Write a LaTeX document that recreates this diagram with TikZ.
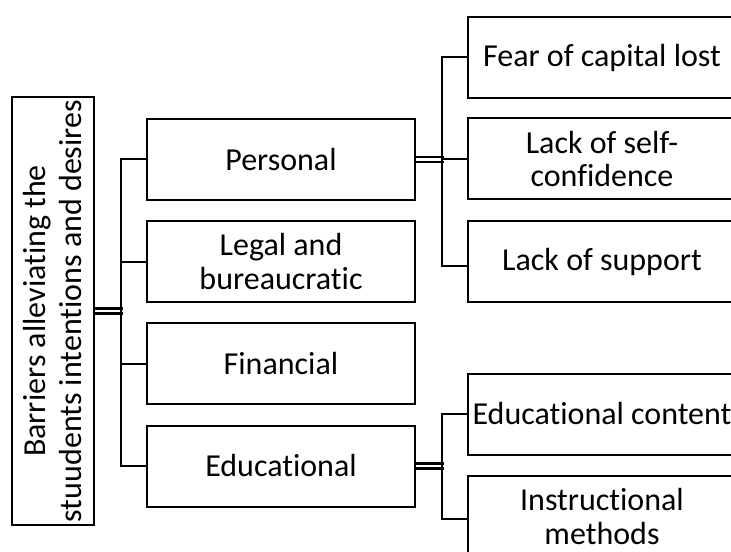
\documentclass[tikz,border=0pt]{standalone}
\usepackage{fontspec}
\setmainfont{Carlito}[RawFeature={-liga,-clig,-dlig}]
\begin{document}
\begin{tikzpicture}[x=0.75pt,y=-0.75pt,
  box/.style={draw=black,line width=1.5pt,rectangle,inner sep=0pt,
    minimum width=201pt,minimum height=60.75pt,align=center,
    font=\fontsize{24}{25}\selectfont},
  conn/.style={draw=black,line width=1.5pt},
  dbl/.style={draw=black,line width=2pt,double=white,double distance=1.8pt}]
\useasboundingbox (0,0) rectangle (731,552);
% root
\node[box,rotate=90,minimum width=321pt,minimum height=61.5pt,
  font=\fontsize{24}{27}\selectfont] (root) at (53,311)
  {Barriers alleviating the\\stuudents intentions and desires};
% middle column
\node[box] (pers) at (281,159.5) {Personal};
\node[box] (leg)  at (281,261.5) {Legal and\\bureaucratic};
\node[box] (fin)  at (281,363.5) {Financial};
\node[box] (edu)  at (281,466)   {Educational};
% right column
\node[box] (fear)  at (602,57.5)  {Fear of capital lost};
\node[box] (lself) at (602,159)   {Lack of self-\\confidence};
\node[box] (lsup)  at (602,261.5) {Lack of support};
\node[box] (econt) at (602,414)   {Educational content};
\node[box] (instr) at (602,516.5) {Instructional\\methods};
% double links
\draw[dbl] (root.south) -- ++(28,0) coordinate (b1);
\draw[dbl] (pers.east) -- ++(28,0) coordinate (b2);
\draw[dbl] (edu.east) -- ++(28,0) coordinate (b3);
% buses
\draw[conn] (pers.west) -- ++(-25,0) |- (edu.west);
\draw[conn] (leg.west) -- ++(-25,0);
\draw[conn] (fin.west) -- ++(-25,0);
\draw[conn] (fear.west) -- ++(-25,0) |- ([yshift=-3pt]lsup.west);
\draw[conn] (lself.west) -- ++(-25,0);
\draw[conn] (econt.west) -- ++(-25,0) |- ([yshift=-2pt]instr.west);
\end{tikzpicture}
\end{document}
